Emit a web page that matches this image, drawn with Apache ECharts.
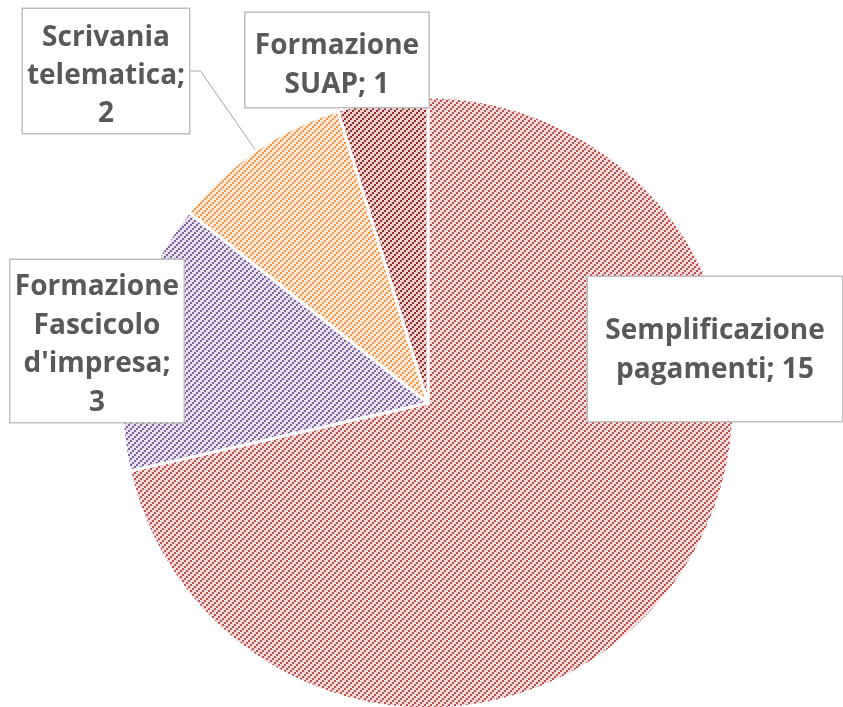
<!DOCTYPE html>
<html>
<head>
<meta charset="utf-8">
<script src="https://cdn.jsdelivr.net/npm/echarts@6/dist/echarts.min.js"></script>
<style>
  html, body { margin: 0; padding: 0; background: #ffffff; }
  #chart { width: 843px; height: 707px; }
</style>
</head>
<body>
<div id="chart"></div>
<script>
// ---- data ----
const categories = ['Semplificazione pagamenti', "Formazione Fascicolo d'impresa", 'Scrivania telematica', 'Formazione SUAP'];
const labelLines = [['Semplificazione', 'pagamenti; 15'], ['Formazione', 'Fascicolo', "d'impresa;", '3'], ['Scrivania', 'telematica;', '2'], ['Formazione', 'SUAP; 1']];
const values = [15, 3, 2, 1];

// ---- styles ----
const fgColors = ['#c0504d', '#8064a2', '#f79646', '#8e2f2c'];
const bgColors = ['#f2dcdb', '#e5e0ec', '#fde9d9', '#efd0cf'];
const labelBoxes = [
  { x: 715, top: 277, width: 230, padding: [35, 12, 31, 12], lineHeight: 39 },
  { x: 97, top: 260, width: 159, padding: [8, 7, 0, 7], lineHeight: 38.5 },
  { x: 106, top: 9, width: 152, padding: [10, 7, 0, 7], lineHeight: 38 },
  { x: 337, top: 13, width: 167, padding: [14, 8, 2, 8], lineHeight: 39 }
];

function makePattern(fg, bg) {
  const c = document.createElement('canvas');
  c.width = 6; c.height = 6;
  const ctx = c.getContext('2d');
  ctx.fillStyle = bg;
  ctx.fillRect(0, 0, 6, 6);
  ctx.fillStyle = fg;
  for (let bx = 0; bx < 3; bx++) {
    for (let by = 0; by < 3; by++) {
      if ((bx + by) % 3 === 0) ctx.fillRect(bx * 2, by * 2, 2, 2);
    }
  }
  return { image: c, repeat: 'repeat' };
}

const chart = echarts.init(document.getElementById('chart'), null, { renderer: 'canvas' });

const data = categories.map((name, i) => ({
  name: name,
  value: values[i],
  itemStyle: { color: makePattern(fgColors[i], bgColors[i]) },
  label: {
    width: labelBoxes[i].width,
    padding: labelBoxes[i].padding,
    lineHeight: labelBoxes[i].lineHeight
  },
  labelLine: { show: i === 2 }
}));

chart.setOption({
  backgroundColor: '#ffffff',
  animation: false,
  series: [{
    type: 'pie',
    center: [428, 403],
    radius: 306,
    startAngle: 90,
    clockwise: true,
    avoidLabelOverlap: false,
    data: data,
    itemStyle: { borderColor: '#ffffff', borderWidth: 3 },
    label: {
      show: true,
      position: 'outside',
      formatter: (p) => labelLines[p.dataIndex].join('\n'),
      fontFamily: '"Open Sans", sans-serif',
      fontWeight: 'bold',
      fontSize: 28,
      color: '#595959',
      align: 'center',
      backgroundColor: '#ffffff',
      borderColor: '#bfbfbf',
      borderWidth: 1.5,
      overflow: 'none'
    },
    labelLine: {
      lineStyle: { color: '#a6a6a6', width: 1 },
      length: 10,
      length2: 10
    },
    labelLayout: (params) => {
      const b = labelBoxes[params.dataIndex];
      return { x: b.x, y: b.top, align: 'center', verticalAlign: 'top' };
    }
  }]
});
</script>
</body>
</html>
